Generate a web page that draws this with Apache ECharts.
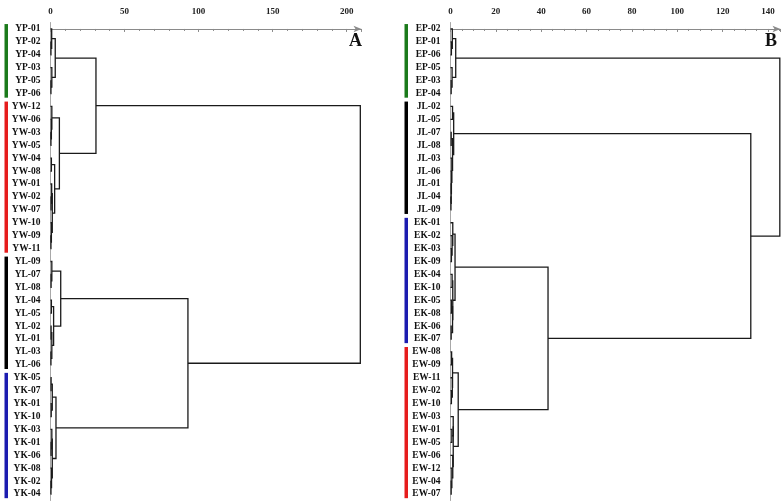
<!DOCTYPE html>
<html>
<head>
<meta charset="utf-8">
<script src="https://cdn.jsdelivr.net/npm/echarts@6/dist/echarts.min.js"></script>
<style>
  html, body { margin: 0; padding: 0; background: #fff; }
  #chart { width: 784px; height: 504px; }
</style>
</head>
<body>
<div id="chart"></div>
<script>
// ---- panel A ----
var leavesA = [
  "YP-01", "YP-02", "YP-04", "YP-03", "YP-05", "YP-06",
  "YW-12", "YW-06", "YW-03", "YW-05", "YW-04", "YW-08", "YW-01", "YW-02", "YW-07", "YW-10", "YW-09", "YW-11",
  "YL-09", "YL-07", "YL-08", "YL-04", "YL-05", "YL-02", "YL-01", "YL-03", "YL-06",
  "YK-05", "YK-07", "YK-01", "YK-10", "YK-03", "YK-01", "YK-06", "YK-08", "YK-02", "YK-04"
];
// [left, right, distance]; 0..36 are leaves, 37.. are the merged nodes in order
var mergesA = [
  [1, 2, 0.3], [0, 37, 0.8], [4, 5, 0.3], [3, 39, 0.9], [38, 40, 3.2],
  [8, 9, 0.3], [7, 42, 0.6], [6, 43, 0.9], [10, 11, 0.6], [13, 14, 0.4],
  [12, 46, 0.8], [16, 17, 0.3], [15, 48, 0.6], [47, 49, 1.2], [45, 50, 2.8],
  [44, 51, 6.0], [41, 52, 30.7],
  [19, 20, 0.4], [18, 54, 0.9], [21, 22, 0.6], [23, 24, 0.4], [25, 26, 0.3],
  [57, 58, 0.9], [56, 59, 2.1], [55, 60, 6.9],
  [27, 28, 0.4], [29, 30, 0.5], [62, 63, 1.2], [32, 33, 0.4], [31, 65, 0.9],
  [35, 36, 0.3], [34, 67, 0.7], [66, 68, 1.2], [64, 69, 3.7],
  [61, 70, 92.8], [53, 71, 209.2]
];
// [first leaf, last leaf, colour]
var groupsA = [[0, 5, "#1b7a1b"], [6, 17, "#e61c1c"], [18, 26, "#000000"], [27, 36, "#1c1cb0"]];

// ---- panel B ----
var leavesB = [
  "EP-02", "EP-01", "EP-06", "EP-05", "EP-03", "EP-04",
  "JL-02", "JL-05", "JL-07", "JL-08", "JL-03", "JL-06", "JL-01", "JL-04", "JL-09",
  "EK-01", "EK-02", "EK-03", "EK-09", "EK-04", "EK-10", "EK-05", "EK-08", "EK-06", "EK-07",
  "EW-08", "EW-09", "EW-11", "EW-02", "EW-10", "EW-03", "EW-01", "EW-05", "EW-06", "EW-12", "EW-04", "EW-07"
];
var mergesB = [
  [1, 2, 0.4], [0, 37, 0.8], [4, 5, 0.3], [3, 39, 0.7], [38, 40, 2.3],
  [6, 7, 0.9], [8, 9, 0.3], [13, 14, 0.2], [12, 44, 0.3], [11, 45, 0.4],
  [10, 46, 0.6], [43, 47, 0.9], [42, 48, 1.4],
  [17, 18, 0.4], [16, 50, 0.7], [15, 51, 1.0], [19, 20, 0.7], [21, 22, 0.4],
  [23, 24, 0.3], [54, 55, 0.9], [53, 56, 1.0], [52, 57, 2.0],
  [25, 26, 0.5], [28, 29, 0.4], [27, 60, 0.8], [59, 61, 0.9], [31, 32, 0.6],
  [30, 63, 1.2], [35, 36, 0.3], [34, 65, 0.6], [33, 66, 1.0], [64, 67, 1.2],
  [62, 68, 3.4], [58, 69, 43.0], [49, 70, 132.4], [41, 71, 145.2]
];
var groupsB = [[0, 5, "#1b7a1b"], [6, 14, "#000000"], [15, 24, "#1c1cb0"], [25, 36, "#e61c1c"]];

// turn the merge list into bracket segments [hLeft, yLeft, h, yRight, hRight]
function layout(n, merges) {
  var pos = [], hgt = [], segs = [];
  for (var i = 0; i < n; i++) { pos.push(i); hgt.push(0); }
  merges.forEach(function (m) {
    var a = m[0], b = m[1];
    segs.push([hgt[a], pos[a], m[2], pos[b], hgt[b]]);
    pos.push((pos[a] + pos[b]) / 2);
    hgt.push(m[2]);
  });
  return segs;
}

function bracket(params, api) {
  var pts = [
    api.coord([api.value(0), api.value(1)]),
    api.coord([api.value(2), api.value(1)]),
    api.coord([api.value(2), api.value(3)]),
    api.coord([api.value(4), api.value(3)])
  ];
  return {
    type: "polyline",
    shape: { points: pts },
    style: { stroke: "#1a1a1a", lineWidth: 1.3, fill: null }
  };
}

function groupBar(params, api) {
  var top = api.coord([0, api.value(0) - 0.38]);
  var bot = api.coord([0, api.value(1) + 0.32]);
  return {
    type: "rect",
    shape: { x: top[0] - 46, y: top[1], width: 3.5, height: bot[1] - top[1] },
    style: { fill: api.visual("color") }
  };
}

var serif = "Liberation Serif";

function xAxisFor(idx, max, step, minor) {
  return {
    gridIndex: idx,
    type: "value",
    position: "top",
    min: 0,
    max: max,
    interval: step,
    axisLine: { lineStyle: { color: "#8a8a8a" }, symbol: ["none", "arrow"], symbolSize: [5, 8] },
    axisTick: { inside: true, length: 3, lineStyle: { color: "#8a8a8a" } },
    minorTick: { show: true, splitNumber: minor, length: 2, lineStyle: { color: "#8a8a8a" } },
    axisLabel: {
      fontFamily: serif, fontWeight: "bold", fontSize: 9, color: "#222", margin: 6,
      showMaxLabel: false,
      formatter: function (v) { return v % step === 0 ? v : ""; }
    },
    splitLine: { show: false }
  };
}

function yAxesFor(idx, leaves) {
  return [
    {
      gridIndex: idx,
      type: "category",
      data: leaves,
      inverse: true,
      axisLine: { lineStyle: { color: "#a8a8a8" } },
      axisTick: { alignWithLabel: true, length: 4, lineStyle: { color: "#a8a8a8" } },
      axisLabel: { interval: 0, fontFamily: serif, fontWeight: "bold", fontSize: 9.5, color: "#111", margin: 10 }
    },
    {
      gridIndex: idx,
      type: "value",
      min: -0.5,
      max: leaves.length - 0.5,
      inverse: true,
      show: false
    }
  ];
}

var myChart = echarts.init(document.getElementById("chart"));
myChart.setOption({
  animation: false,
  title: [
    { text: "A", left: 344, top: 27, textStyle: { fontFamily: serif, fontWeight: "bold", fontSize: 18, color: "#111" } },
    { text: "B", left: 760, top: 27, textStyle: { fontFamily: serif, fontWeight: "bold", fontSize: 18, color: "#111" } }
  ],
  grid: [
    { left: 50.5, top: 22.5, width: 311, height: 478 },
    { left: 450.5, top: 22.5, width: 330, height: 478 }
  ],
  xAxis: [xAxisFor(0, 210, 50, 5), xAxisFor(1, 145.5, 20, 4)],
  yAxis: yAxesFor(0, leavesA).concat(yAxesFor(1, leavesB)),
  series: [
    {
      type: "custom", xAxisIndex: 0, yAxisIndex: 1, clip: false,
      renderItem: bracket, data: layout(leavesA.length, mergesA)
    },
    {
      type: "custom", xAxisIndex: 1, yAxisIndex: 3, clip: false,
      renderItem: bracket, data: layout(leavesB.length, mergesB)
    },
    {
      type: "custom", xAxisIndex: 0, yAxisIndex: 1, clip: false, renderItem: groupBar,
      data: groupsA.map(function (g) { return { value: [g[0], g[1]], itemStyle: { color: g[2] } }; })
    },
    {
      type: "custom", xAxisIndex: 1, yAxisIndex: 3, clip: false, renderItem: groupBar,
      data: groupsB.map(function (g) { return { value: [g[0], g[1]], itemStyle: { color: g[2] } }; })
    }
  ]
});
</script>
</body>
</html>
